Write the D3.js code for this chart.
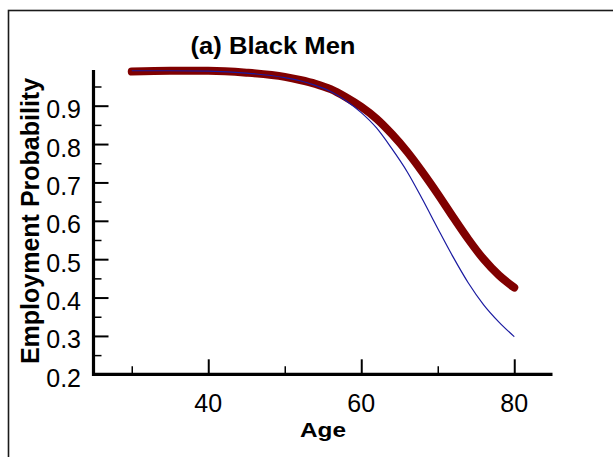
<!DOCTYPE html>
<html>
<head>
<meta charset="utf-8">
<script src="https://cdn.jsdelivr.net/npm/d3@7"></script>
<style>
  html, body { margin: 0; padding: 0; background: #fff; }
  svg { display: block; }
  text { font-family: "Liberation Sans", Arial, Helvetica, sans-serif; fill: #000; }
</style>
</head>
<body>
<svg id="chart" width="613" height="457"></svg>
<script>
// ---- data ----
const ages = [30, 35, 40, 45, 50, 52, 54, 56, 58, 60, 62, 64, 66, 68, 70, 72, 74, 76, 78, 80];
const redSeries = [0.989, 0.991, 0.991, 0.986, 0.975, 0.967, 0.957, 0.943, 0.922, 0.897, 0.866, 0.826, 0.780, 0.727, 0.670, 0.610, 0.552, 0.500, 0.458, 0.426];
const blueSeries = [0.991, 0.991, 0.990, 0.985, 0.973, 0.965, 0.953, 0.937, 0.913, 0.882, 0.842, 0.788, 0.728, 0.656, 0.580, 0.506, 0.438, 0.381, 0.336, 0.298];
const xMajorTicks = [40, 60, 80];
const xMinorTicks = [30, 50, 70];
const yMajorTicks = [0.2, 0.3, 0.4, 0.5, 0.6, 0.7, 0.8, 0.9];
const yMinorTicks = [0.25, 0.35, 0.45, 0.55, 0.65, 0.75, 0.85, 0.95];
const title = "(a) Black Men";
const xLabel = "Age";
const yLabel = "Employment Probability";

const svg = d3.select("#chart");

// outer frame (only top and left edges visible in the picture)
svg.append("rect")
  .attr("x", 8.5).attr("y", 10.5)
  .attr("width", 640).attr("height", 480)
  .attr("fill", "none").attr("stroke", "#1a1a1a").attr("stroke-width", 1.6);

const x = d3.scaleLinear().domain([25, 85]).range([93.5, 552.5]);
const y = d3.scaleLinear().domain([0.2, 0.993]).range([374.3, 70]);

// x axis ticks
svg.append("g").attr("transform", `translate(0,${y(0.2)})`)
  .call(d3.axisTop(x).tickValues(xMajorTicks).tickSize(15).tickFormat(""))
  .call(g => g.select(".domain").remove())
  .selectAll("line").attr("stroke", "#000").attr("stroke-width", 2);
svg.append("g").attr("transform", `translate(0,${y(0.2)})`)
  .call(d3.axisTop(x).tickValues(xMinorTicks).tickSize(8).tickFormat(""))
  .call(g => g.select(".domain").remove())
  .selectAll("line").attr("stroke", "#000").attr("stroke-width", 1.5);
svg.append("g").selectAll("text").data(xMajorTicks).join("text")
  .attr("x", d => x(d)).attr("y", y(0.2) + 37.5)
  .attr("text-anchor", "middle").attr("font-size", 25)
  .text(d3.format("d"));

// y axis ticks
svg.append("g").attr("transform", `translate(${x(25)},0)`)
  .call(d3.axisRight(y).tickValues(yMajorTicks).tickSize(15).tickFormat(""))
  .call(g => g.select(".domain").remove())
  .selectAll("line").attr("stroke", "#000").attr("stroke-width", 2);
svg.append("g").attr("transform", `translate(${x(25)},0)`)
  .call(d3.axisRight(y).tickValues(yMinorTicks).tickSize(8).tickFormat(""))
  .call(g => g.select(".domain").remove())
  .selectAll("line").attr("stroke", "#000").attr("stroke-width", 1.5);
svg.append("g").selectAll("text").data(yMajorTicks).join("text")
  .attr("x", 81).attr("y", d => y(d) + 12.5)
  .attr("text-anchor", "end").attr("font-size", 25)
  .text(d3.format(".1f"));

// axis lines
svg.append("line")
  .attr("x1", x(25)).attr("x2", x(85)).attr("y1", y(0.2)).attr("y2", y(0.2))
  .attr("stroke", "#000").attr("stroke-width", 3.2);
svg.append("line")
  .attr("x1", x(25)).attr("x2", x(25)).attr("y1", y(0.993)).attr("y2", y(0.2) + 1.6)
  .attr("stroke", "#000").attr("stroke-width", 3.2);

// curves
const line = (vals) => d3.line()
  .x((d, i) => x(ages[i]))
  .y(d => y(d))
  .curve(d3.curveMonotoneX)(vals);

svg.append("path").attr("d", line(redSeries))
  .attr("fill", "none").attr("stroke", "#800000").attr("stroke-width", 8)
  .attr("stroke-linecap", "round").attr("stroke-linejoin", "round");
svg.append("path").attr("d", line(blueSeries))
  .attr("fill", "none").attr("stroke", "#1a1aa0").attr("stroke-width", 1.2);

// title & labels
svg.append("text").attr("x", 273).attr("y", 54)
  .attr("text-anchor", "middle").attr("font-size", 23).attr("font-weight", "bold")
  .attr("textLength", 165).attr("lengthAdjust", "spacingAndGlyphs")
  .text(title);
svg.append("text").attr("x", 323).attr("y", 437)
  .attr("text-anchor", "middle").attr("font-size", 21).attr("font-weight", "bold")
  .attr("textLength", 46).attr("lengthAdjust", "spacingAndGlyphs")
  .text(xLabel);
svg.append("text")
  .attr("transform", "translate(39,221) rotate(-90)")
  .attr("text-anchor", "middle").attr("font-size", 25).attr("font-weight", "bold")
  .text(yLabel);
</script>
</body>
</html>
